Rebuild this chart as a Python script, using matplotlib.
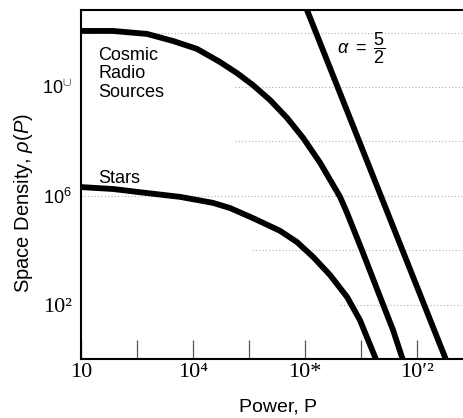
import matplotlib
matplotlib.use("Agg")
import matplotlib.pyplot as plt

# values are log10 of power and of space density
radio_logp = [0.0, 1.14, 2.36, 3.29, 4.14, 4.96, 5.57, 6.14, 6.75, 7.36, 7.93,
              8.54, 9.25, 9.5, 10.07, 10.68, 11.14, 11.46, 11.6]
radio_logrho = [12.06, 12.06, 11.95, 11.69, 11.40, 10.92, 10.51, 10.07, 9.52, 8.86, 8.13,
                7.21, 5.96, 5.37, 3.90, 2.28, 1.07, 0.07, -0.4]

stars_logp = [0.0, 1.14, 2.36, 3.54, 4.71, 5.32, 6.14, 7.11, 7.71, 8.29, 8.89,
              9.5, 9.96, 10.5, 10.62]
stars_logrho = [6.32, 6.25, 6.10, 5.96, 5.74, 5.55, 5.18, 4.71, 4.30, 3.75, 3.09,
                2.28, 1.43, 0.07, -0.3]

alpha_logp = [8.0, 13.2]
alpha_logrho = [13.01, -0.46]

xtick_pos = [0, 4, 8, 12]
xtick_labels = ['10', '10⁴', '10*', '10′²']
xminor_pos = [2, 6, 10]

ytick_pos = [2, 6, 10]
ytick_labels = ['10²', '10$^6$', '10$^{\\cup}$']
ytick_fonts = ['Liberation Serif', 'Liberation Sans', 'Liberation Sans']

grid_levels = [2, 4, 6, 8, 10, 12]
grid_from = [9.25, 6.1, 0.0, 5.5, 5.5, 0.0]

plt.rcParams['font.family'] = ['Liberation Sans', 'DejaVu Sans']
plt.rcParams['mathtext.fontset'] = 'custom'
plt.rcParams['mathtext.rm'] = 'Liberation Sans'
plt.rcParams['mathtext.it'] = 'Liberation Sans:italic'
plt.rcParams['mathtext.bf'] = 'Liberation Sans:bold'

fig = plt.figure(figsize=(4.63, 4.18), dpi=100)
ax = fig.add_axes([81 / 463, 59 / 418, 382 / 463, 349 / 418])
ax.set_xlim(0, 13.64)
ax.set_ylim(0, 12.83)

for lev, start in zip(grid_levels, grid_from):
    ax.hlines(lev, start, 13.64, colors='#b0b0b0', linestyles=(0, (1, 2)), linewidth=0.8, zorder=1)

for xs, ys in [(radio_logp, radio_logrho), (stars_logp, stars_logrho), (alpha_logp, alpha_logrho)]:
    ax.plot(xs, ys, color='black', linewidth=4.2, solid_joinstyle='round', zorder=3)

ax.text(0.61, 11.47, 'Cosmic\nRadio\nSources', fontsize=13, ha='left', va='top', linespacing=1.1)
ax.text(0.61, 6.47, 'Stars', fontsize=13, ha='left', va='baseline')
ax.text(9.14, 11.43, r'$\alpha\ =\ \dfrac{5}{2}$', fontsize=13, ha='left', va='center')

ax.spines['right'].set_visible(False)
for side in ['left', 'bottom', 'top']:
    ax.spines[side].set_linewidth(1.5)

ax.set_xticks(xtick_pos, xtick_labels)
ax.set_xticks(xminor_pos, minor=True)
ax.tick_params(axis='x', which='both', direction='in', length=13.5, width=0.9, color='#555555', pad=3)
for lab in ax.get_xticklabels():
    lab.set_fontfamily(['Liberation Serif', 'DejaVu Serif'])
    lab.set_fontsize(16)

ax.set_yticks(ytick_pos, ytick_labels)
ax.tick_params(axis='y', length=0, pad=6.5)
for lab, fam in zip(ax.get_yticklabels(), ytick_fonts):
    lab.set_fontfamily([fam, 'DejaVu Sans'])
    lab.set_fontsize(16 if fam == 'Liberation Serif' else 13)

ax.set_xlabel('Power, P', fontsize=14)
ax.xaxis.set_label_coords(0.517, -0.112)
ax.set_ylabel(r'Space Density, $\rho(P)$', fontsize=14.5)
ax.yaxis.set_label_coords(-0.12, 0.447)

fig.savefig('out.png', dpi=100)
